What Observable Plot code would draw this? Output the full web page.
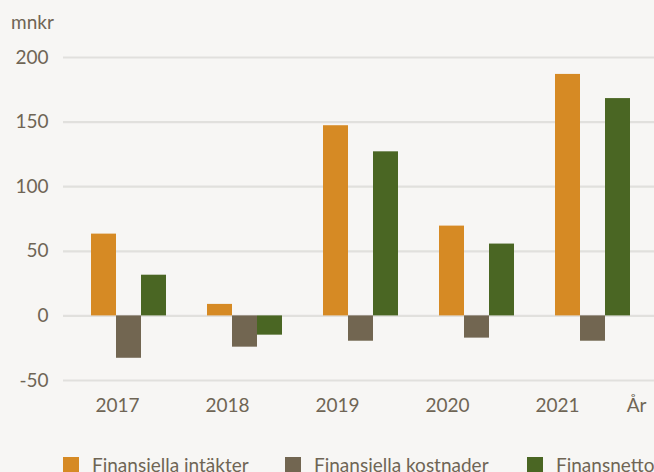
<!DOCTYPE html>
<html>
<head>
<meta charset="utf-8">
<script src="https://cdn.jsdelivr.net/npm/d3@7"></script>
<script src="https://cdn.jsdelivr.net/npm/@observablehq/plot@0.6"></script>
<style>
  html, body { margin: 0; padding: 0; background: #f7f6f4; width: 654px; height: 472px; overflow: hidden; }
  body { position: relative; font-family: Lato, "Open Sans", sans-serif; color: #6f6555; }
  #unit { position: absolute; left: 11px; top: 10px; font-size: 19px; line-height: normal; }
  #main { position: absolute; left: 0; top: 40px; }
  #xaxis { position: absolute; left: 0; top: 395px; }
  #legend { position: absolute; left: 0; top: 453px; display: flex; padding-left: 63px; font-size: 19px; white-space: nowrap; }
  .item { display: flex; align-items: flex-start; }
  .sw { width: 16px; height: 16px; margin-top: 4px; margin-right: 13px; flex: none; }
</style>
</head>
<body>
<div id="unit">mnkr</div>
<div id="main"></div>
<div id="xaxis"></div>
<div id="legend"></div>
<script>
const years = ["2017", "2018", "2019", "2020", "2021"];
const intakter = [63.3, 8.9, 147.2, 69.5, 186.9];
const kostnader = [-32.8, -24.2, -19.6, -17.2, -19.6];
const netto = [31.5, -14.9, 127, 55.6, 168.2];
const seriesNames = ["Finansiella intäkter", "Finansiella kostnader", "Finansnetto"];
const seriesColors = ["#d68a24", "#726651", "#4a6623"];
const yTicks = [-50, 0, 50, 100, 150, 200];
const xUnit = "År";

const rows = years.map((year, i) => ({year, intakter: intakter[i], kostnader: kostnader[i], netto: netto[i]}));
const keys = ["intakter", "kostnader", "netto"];
const insets = [[0, 50], [25, 25], [50, 0]];

const font = {fontFamily: "Lato, 'Open Sans', sans-serif", fontSize: "19px", color: "#6f6555", background: "transparent", overflow: "visible"};

const main = Plot.plot({
  width: 654,
  height: 355,
  marginTop: 17,
  marginBottom: 15,
  marginLeft: 63,
  marginRight: 0,
  style: font,
  x: {type: "band", domain: years, range: [90, 630], paddingInner: 0.356, paddingOuter: 0, axis: null},
  y: {domain: [-50, 200], axis: null},
  marks: [
    Plot.ruleY(yTicks, {stroke: "#e1e0dd", strokeWidth: 2.2}),
    ...keys.map((k, i) => Plot.barY(rows, {
      x: "year", y1: 0, y2: k, fill: seriesColors[i],
      insetLeft: insets[i][0], insetRight: insets[i][1]
    })),
    Plot.axisY(yTicks, {tickSize: 0, tickPadding: 15, tickFormat: d => String(d)})
  ]
});
document.getElementById("main").appendChild(main);

const xaxis = Plot.plot({
  width: 654,
  height: 40,
  marginTop: 0,
  marginBottom: 0,
  marginLeft: 0,
  marginRight: 0,
  style: font,
  x: {type: "point", domain: years, range: [116.7, 557.5], padding: 0, axis: null},
  marks: [
    Plot.text(years, {x: d => d, frameAnchor: "top", lineAnchor: "middle", dy: 10, fill: "currentColor"}),
    Plot.text([xUnit], {frameAnchor: "top-right", textAnchor: "end", lineAnchor: "middle", dy: 10, dx: -8, fill: "currentColor"})
  ]
});
document.getElementById("xaxis").appendChild(xaxis);

const widths = [222, 242, null];
const legend = document.getElementById("legend");
seriesNames.forEach((name, i) => {
  const item = document.createElement("div");
  item.className = "item";
  if (widths[i]) item.style.width = widths[i] + "px";
  const sw = document.createElement("div");
  sw.className = "sw";
  sw.style.background = seriesColors[i];
  const label = document.createElement("span");
  label.textContent = name;
  item.appendChild(sw);
  item.appendChild(label);
  legend.appendChild(item);
});
</script>
</body>
</html>
